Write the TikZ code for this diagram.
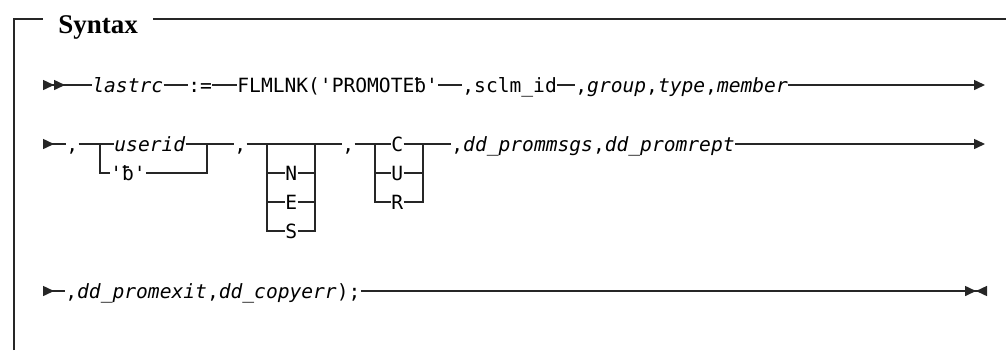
\documentclass[tikz,border=0pt]{standalone}
\usepackage{fontspec}
\usetikzlibrary{arrows.meta}
\newfontfamily\railmono[Ligatures=TeXOff]{DejaVu Sans Mono}
\newfontfamily\ttlserif{Liberation Serif}
\newcommand{\railfont}{\railmono\fontsize{9.8pt}{12pt}\selectfont}
\tikzset{
  tok/.style={font=\railfont,anchor=west,inner sep=0pt,
    text height=7.5pt,text depth=0.5pt},
  var/.style={tok,font=\railfont\itshape},
  ttl/.style={font=\ttlserif\fontsize{13.5pt}{16pt}\selectfont\bfseries,
    anchor=base west,inner xsep=7.5pt,inner ysep=0pt},
  frame/.style={line width=0.7pt,black!85},
  rail/.style={line width=0.75pt,black!85},
  % start and end marks of a syntax line
  beg2/.style={rail,{Triangle[length=5.5pt,width=5pt,reversed,sep=0pt]Triangle[length=5.5pt,width=5pt,reversed,sep=0pt]}-},
  beg1/.style={rail,{Triangle[length=5.5pt,width=5pt,reversed,sep=0pt]}-},
  cont/.style={rail,-{Triangle[length=5.5pt,width=5pt,sep=0pt]}},
  stop/.style={rail,-{Triangle[length=5.5pt,width=5pt,sep=0pt]Triangle[length=5.5pt,width=5pt,reversed,sep=0pt]}}
}

\begin{document}
\begin{tikzpicture}[x=0.5pt,y=-0.5pt]
  \useasboundingbox (0,0) rectangle (1006,350);
  % frame with title
  \node[ttl] (title) at (43,33) {Syntax};
  \coordinate (tl) at (14,19);
  \coordinate (bl) at (14,350);
  \coordinate (tr) at (1006,19);
  \draw[frame] (bl) -- (tl) -- (tl -| title.west);
  \draw[frame] (tl -| title.east) -- (tr);

  % first line
  \coordinate (r1s) at (43,85);
  \node[var] (lastrc) at (92,85) {lastrc};
  \node[tok] (assign) at (188,85) {:=};
  \node[tok] (flmlnk) at (237,85) {FLMLNK('PROMOTEƀ'};
  \node[tok] (sclm) at (462,85) {,sclm\_id};
  \node[tok] (group) at (575,85) {,\textit{group},\textit{type},\textit{member}};
  \coordinate (r1e) at (985,85);
  \draw[beg2] (r1s) -- (lastrc);
  \draw[rail] (lastrc) -- (assign);
  \draw[rail] (assign) -- (flmlnk);
  \draw[rail] (flmlnk) -- (sclm);
  \draw[rail] (sclm) -- (group);
  \draw[cont] (group) -- (r1e);

  % second line
  \coordinate (r2s) at (43,144);
  \node[tok] (cma) at (66,144) {,};
  \coordinate (ub) at (100,144);
  \coordinate (ue) at (207,144);
  \node[var] (userid) at (114,144) {userid};
  \node[tok] (blank) at (110,173) {'ƀ'};
  \node[tok] (cmb) at (234,144) {,};
  \coordinate (nb) at (267,144);
  \coordinate (ne) at (315,144);
  \node[tok] (optn) at (285,173) {N};
  \node[tok] (opte) at (285,202) {E};
  \node[tok] (opts) at (285,231) {S};
  \node[tok] (cmc) at (342,144) {,};
  \coordinate (cb) at (375,144);
  \coordinate (ce) at (423,144);
  \node[tok] (optc) at (391,144) {C};
  \node[tok] (optu) at (391,173) {U};
  \node[tok] (optr) at (391,202) {R};
  \node[tok] (msgs) at (451,144) {,\textit{dd\_prommsgs},\textit{dd\_promrept}};
  \coordinate (r2e) at (985,144);
  \draw[beg1] (r2s) -- (cma);
  \draw[rail] (cma) -- (ub) -- (userid);
  \draw[rail] (userid) -- (ue) -- (cmb);
  \draw[rail] (ub) |- (blank);
  \draw[rail] (blank) -| (ue);
  \draw[rail] (cmb) -- (nb) -- (ne) -- (cmc);
  \draw[rail] (nb) |- (optn) -| (ne);
  \draw[rail] (nb) |- (opte) -| (ne);
  \draw[rail] (nb) |- (opts) -| (ne);
  \draw[rail] (cmc) -- (cb) -- (optc) -- (ce) -- (msgs);
  \draw[rail] (cb) |- (optu) -| (ce);
  \draw[rail] (cb) |- (optr) -| (ce);
  \draw[cont] (msgs) -- (r2e);

  % third line
  \coordinate (r3s) at (43,291);
  \node[tok] (exitn) at (65,291) {,\textit{dd\_promexit},\textit{dd\_copyerr});};
  \coordinate (r3e) at (987,291);
  \draw[beg1] (r3s) -- (exitn);
  \draw[stop] (exitn) -- (r3e);
\end{tikzpicture}
\end{document}
